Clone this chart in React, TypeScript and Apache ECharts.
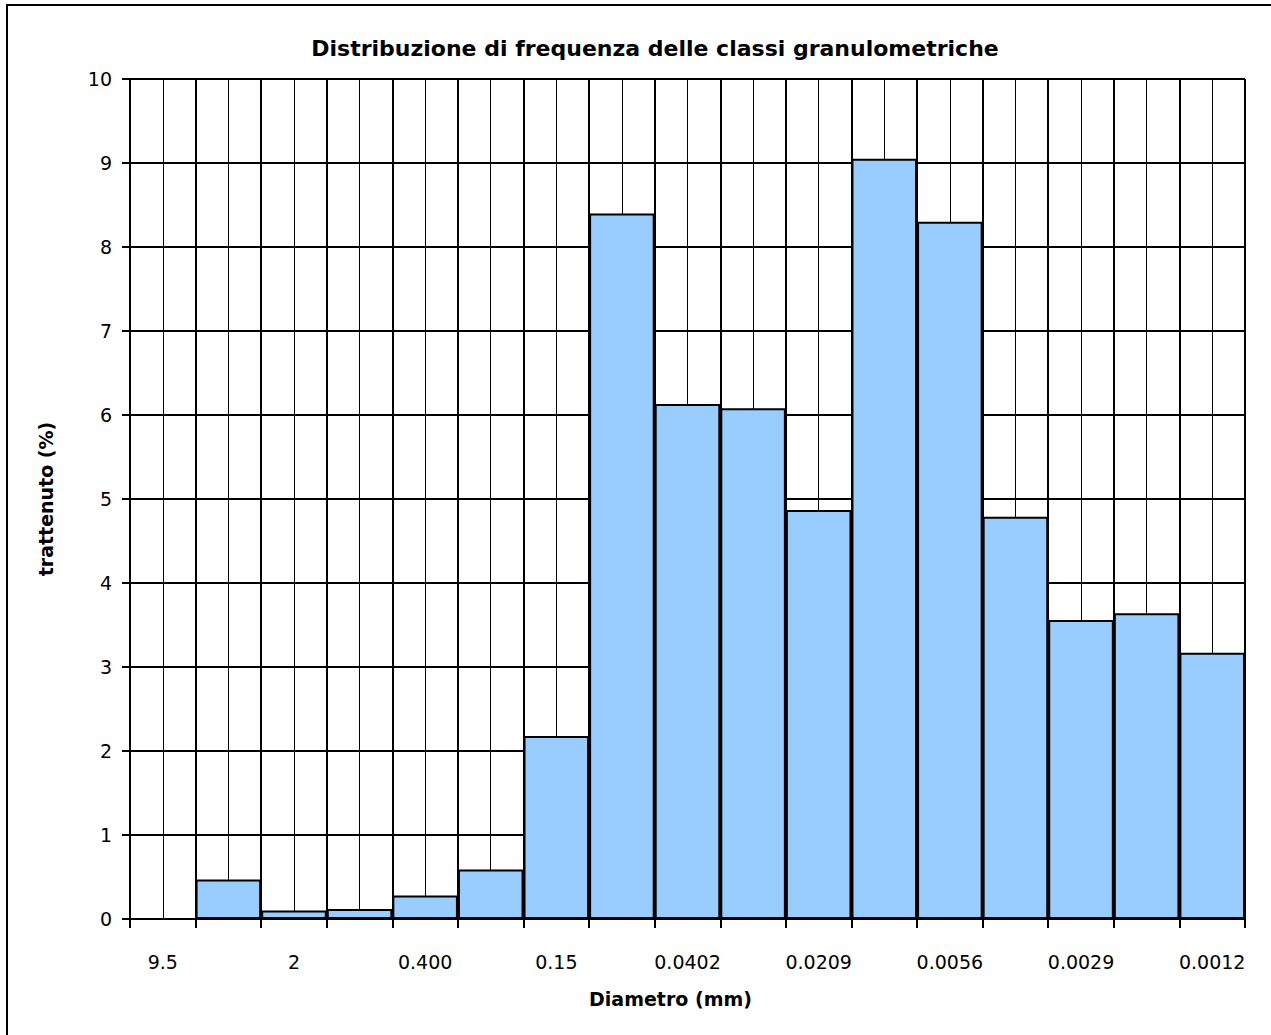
import React, { useEffect, useRef } from "react";
import * as echarts from "echarts";

const categories = ["9.5", "4.75", "2", "0.850", "0.400", "0.250", "0.15", "0.075", "0.0402", "0.0295", "0.0209", "0.0108", "0.0056", "0.0040", "0.0029", "0.0020", "0.0012"];
const retained = [0, 0.47, 0.1, 0.12, 0.28, 0.59, 2.18, 8.4, 6.13, 6.08, 4.87, 9.05, 8.3, 4.79, 3.56, 3.64, 3.17];
const titleText = "Distribuzione di frequenza delle classi granulometriche";
const xName = "Diametro (mm)";
const yName = "trattenuto (%)";

const FONT = "'DejaVu Sans', Verdana, sans-serif";

export default function App() {
  const ref = useRef<HTMLDivElement>(null);
  useEffect(() => {
    if (!ref.current) return;
    const chart = echarts.init(ref.current, null, { renderer: "svg" });
    chart.setOption({
      animation: false,
      backgroundColor: "#ffffff",
      title: {
        text: titleText,
        left: 650,
        textAlign: "center",
        top: 32,
        textStyle: { fontFamily: FONT, fontWeight: "bold", fontSize: 22, color: "#000" },
      },
      graphic: [
        {
          type: "rect",
          shape: { x: 7, y: 5, width: 1400, height: 1200 },
          style: { fill: "none", stroke: "#000", lineWidth: 2 },
          silent: true,
        },
      ],
      grid: { left: 130, right: 26, top: 79, bottom: 116, containLabel: false, outerBoundsMode: "none" },
      xAxis: [
        {
          type: "value",
          position: "top",
          min: 0,
          max: 17,
          interval: 0.5,
          show: true,
          axisLine: { show: false },
          axisTick: { show: false },
          axisLabel: { show: false },
          splitLine: { show: true, lineStyle: { color: "#000", width: 1 } },
        },
        {
          type: "category",
          position: "bottom",
          data: categories,
          boundaryGap: true,
          name: xName,
          nameLocation: "middle",
          nameGap: 70,
          nameTextStyle: { fontFamily: FONT, fontWeight: "bold", fontSize: 19, color: "#000", padding: [0, 34, 0, 0] },
          axisLine: { show: true, lineStyle: { color: "#000", width: 2 } },
          axisTick: { show: true, interval: 0, length: 9, lineStyle: { color: "#000", width: 2 } },
          axisLabel: { interval: 1, margin: 33, fontFamily: FONT, fontSize: 19, color: "#000" },
          splitLine: { show: true, interval: 0, lineStyle: { color: "#000", width: 2 } },
        },
      ],
      yAxis: {
        type: "value",
        min: 0,
        max: 10,
        interval: 1,
        name: yName,
        nameLocation: "middle",
        nameGap: 75,
        nameTextStyle: { fontFamily: FONT, fontWeight: "bold", fontSize: 19, color: "#000", padding: [0, 0, 0, 0] },
        axisLine: { show: true, lineStyle: { color: "#000", width: 2 } },
        axisTick: { show: true, length: 8, lineStyle: { color: "#000", width: 2 } },
        axisLabel: { margin: 18, fontFamily: FONT, fontSize: 19, color: "#000" },
        splitLine: { show: true, lineStyle: { color: "#000", width: 2 } },
      },
      series: [
        {
          type: "bar",
          xAxisIndex: 1,
          data: retained,
          barCategoryGap: "0%",
          itemStyle: { color: "#99CCFF", borderColor: "#000", borderWidth: 2 },
        },
      ],
    });
    return () => chart.dispose();
  }, []);
  return (
    <div
      ref={ref}
      style={{ position: "absolute", left: 0, top: 0, width: 1271, height: 1035, overflow: "hidden" }}
    />
  );
}
